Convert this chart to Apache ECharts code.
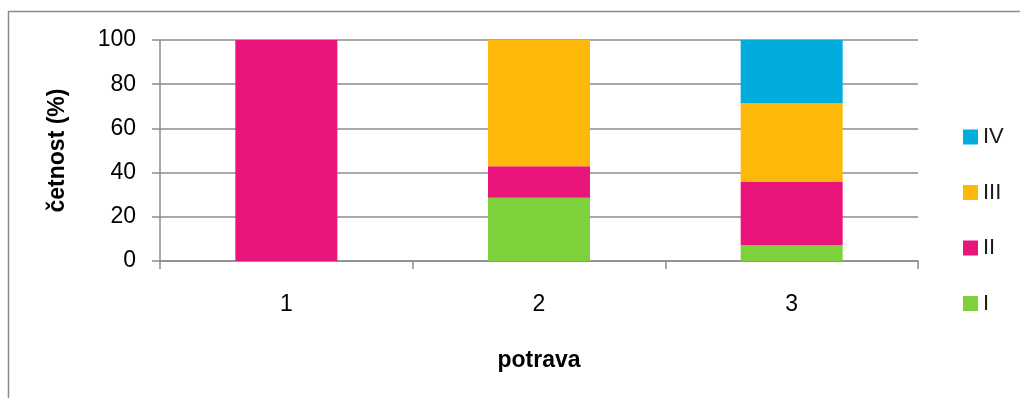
<!DOCTYPE html>
<html>
<head>
<meta charset="utf-8">
<script src="https://cdn.jsdelivr.net/npm/echarts@6/dist/echarts.min.js"></script>
<style>
  html, body { margin: 0; padding: 0; background: #fff; }
  #chart { width: 1020px; height: 398px; }
</style>
</head>
<body>
<div id="chart"></div>
<script>
// Food type categories and the share (%) of each class within them
const categories = ['1', '2', '3'];
const seriesNames = ['I', 'II', 'III', 'IV'];
const valuesI = [0, 28.57, 7.14];
const valuesII = [100, 14.29, 28.57];
const valuesIII = [0, 57.14, 35.71];
const valuesIV = [0, 0, 28.57];
const colors = ['#7FD13B', '#EA157A', '#FEB80A', '#00ADDC'];
const yTicks = { min: 0, max: 100, interval: 20 };

const font = 'Liberation Sans, Arial, sans-serif';
const gridGray = '#8c8c8c';

const chart = echarts.init(document.getElementById('chart'), null, { renderer: 'canvas' });

const allValues = [valuesI, valuesII, valuesIII, valuesIV];
const series = seriesNames.map((name, i) => ({
  name: name,
  type: 'bar',
  stack: 'total',
  barWidth: 102,
  itemStyle: { color: colors[i] },
  data: allValues[i]
}));

chart.setOption({
  animation: false,
  color: colors,
  graphic: [{
    type: 'rect',
    shape: { x: 8.5, y: 11.5, width: 1100, height: 500 },
    style: { fill: 'none', stroke: '#8a8a8a', lineWidth: 1.5 },
    silent: true
  }],
  grid: { left: 160, right: 102, top: 40, bottom: 137 },
  legend: {
    orient: 'vertical',
    left: 958,
    top: 121,
    itemWidth: 15,
    itemHeight: 15,
    itemGap: 33.5,
    icon: 'rect',
    data: ['IV', 'III', 'II', 'I'],
    textStyle: { fontFamily: font, fontSize: 22, lineHeight: 15, color: '#1a1a1a', padding: [0, 0, 0, 0] }
  },
  xAxis: {
    type: 'category',
    data: categories,
    name: 'potrava',
    nameLocation: 'middle',
    nameGap: 88,
    nameTextStyle: { fontFamily: font, fontSize: 23, fontWeight: 'bold', color: '#000' },
    axisLine: { show: true, lineStyle: { color: gridGray, width: 1.5 } },
    axisTick: { show: true, length: 8, alignWithLabel: false, lineStyle: { color: gridGray, width: 1.5 } },
    axisLabel: { fontFamily: font, fontSize: 23, color: '#000', margin: 32 }
  },
  yAxis: {
    type: 'value',
    min: yTicks.min,
    max: yTicks.max,
    interval: yTicks.interval,
    name: 'četnost (%)',
    nameLocation: 'middle',
    nameGap: 91,
    nameRotate: 90,
    nameTextStyle: { fontFamily: font, fontSize: 23, fontWeight: 'bold', color: '#000' },
    axisLine: { show: true, lineStyle: { color: gridGray, width: 1.5 } },
    axisTick: { show: true, length: 8, lineStyle: { color: gridGray, width: 1.5 } },
    axisLabel: { fontFamily: font, fontSize: 23, color: '#000', margin: 24 },
    splitLine: { show: true, lineStyle: { color: gridGray, width: 1.5 } }
  },
  series: series
});
</script>
</body>
</html>
